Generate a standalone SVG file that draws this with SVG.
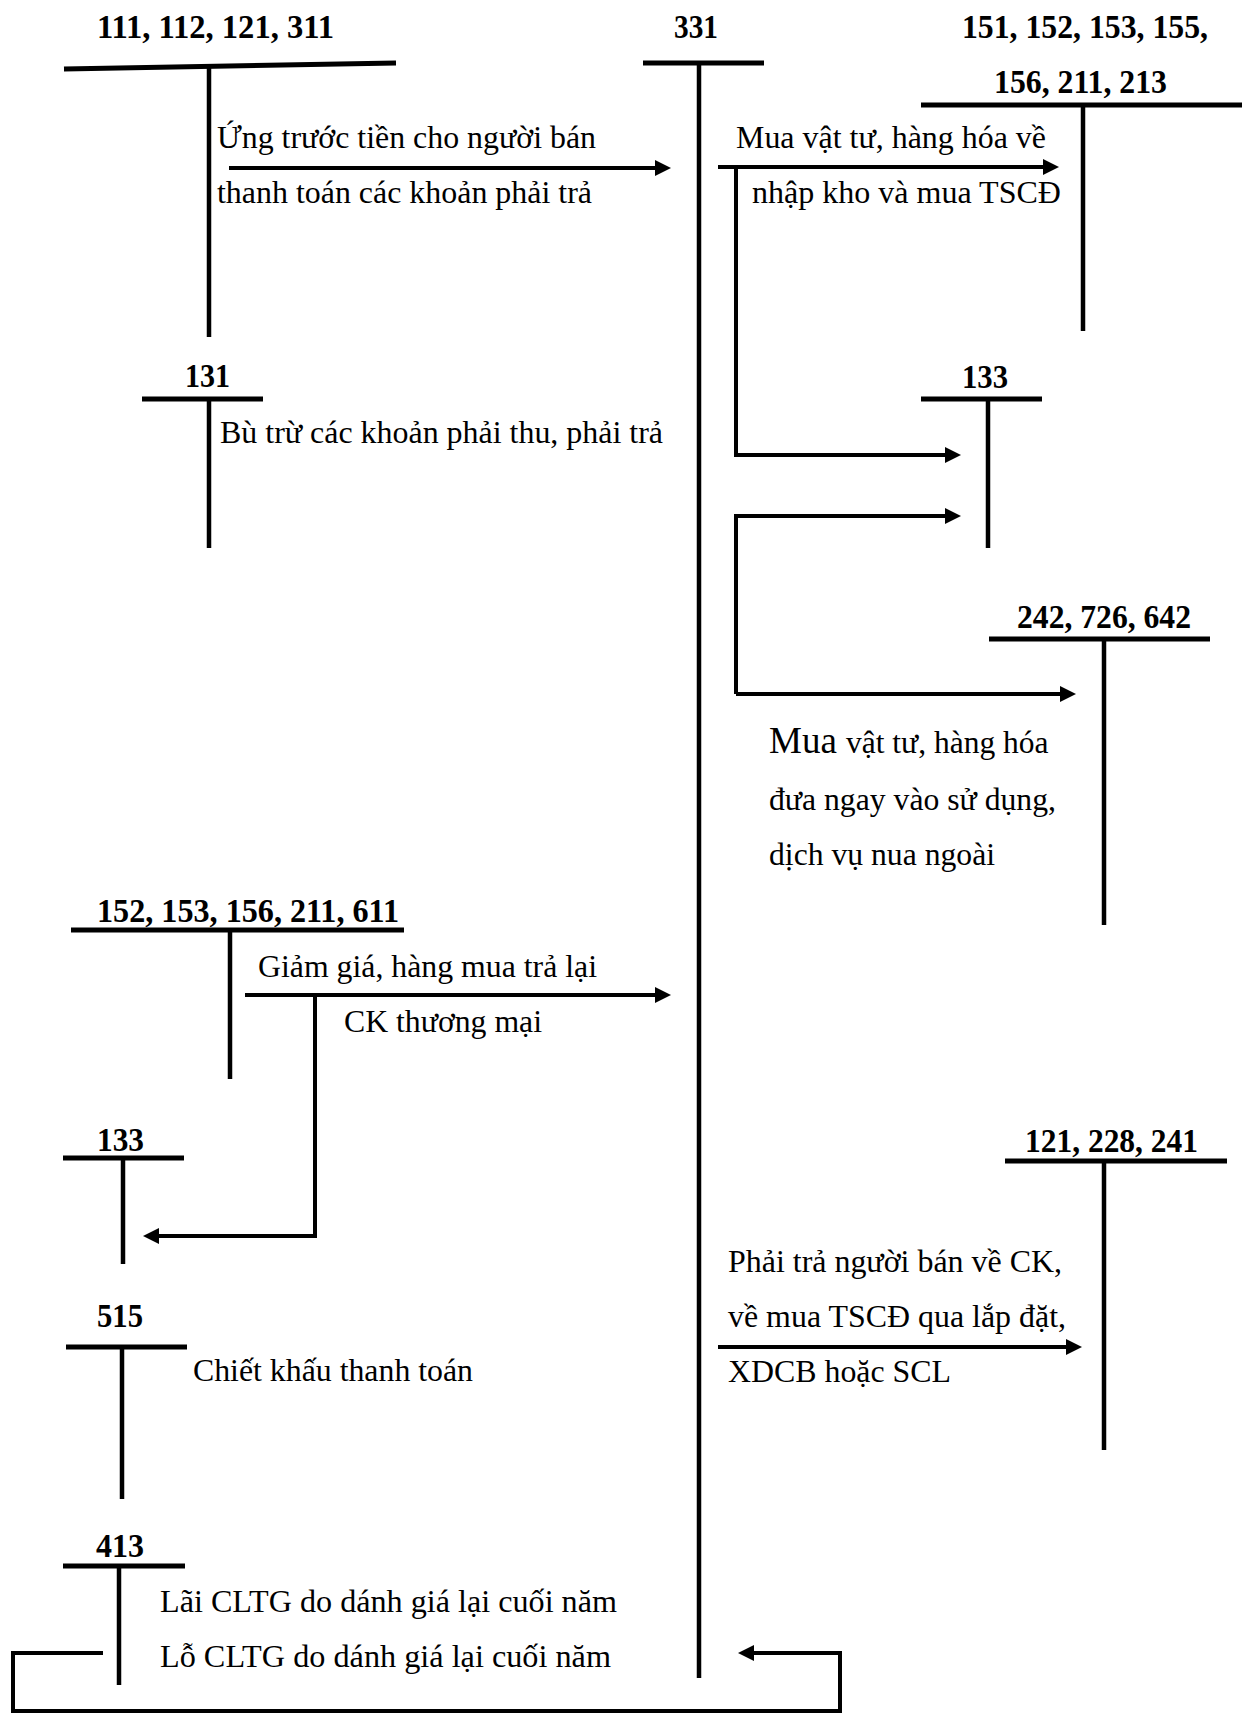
<svg xmlns="http://www.w3.org/2000/svg" width="1242" height="1715" viewBox="0 0 1242 1715">
<style>
  .t{font-family:"Liberation Serif","Times New Roman",serif;font-size:33px;font-weight:bold;fill:#000}
  .b{font-family:"Liberation Serif","Times New Roman",serif;font-size:31.5px;fill:#000}
  .h{stroke:#000;stroke-width:5;fill:none}
  .v{stroke:#000;stroke-width:4.5;fill:none}
  .a{stroke:#000;stroke-width:4;fill:none;marker-end:url(#ah)}
</style>
<defs>
  <marker id="ah" markerUnits="userSpaceOnUse" markerWidth="16" markerHeight="16" viewBox="0 0 16 16" refX="6" refY="8" orient="auto">
    <path d="M0,0 L16,8 L0,16 z" fill="#000"/>
  </marker>
</defs>
<rect width="1242" height="1715" fill="#fff"/>

<g id="acc-111">
  <text class="t" x="97" y="38" textLength="237" lengthAdjust="spacingAndGlyphs">111, 112, 121, 311</text>
  <line class="h" x1="64" y1="69" x2="396" y2="63"/>
  <line class="v" x1="209" y1="68" x2="209" y2="337"/>
</g>
<g id="acc-331">
  <text class="t" x="674" y="38" textLength="44" lengthAdjust="spacingAndGlyphs">331</text>
  <line class="h" x1="643" y1="63" x2="764" y2="63"/>
  <line class="v" x1="699" y1="63" x2="699" y2="1678"/>
</g>
<g id="acc-151">
  <text class="t" x="962" y="38" textLength="246" lengthAdjust="spacingAndGlyphs">151, 152, 153, 155,</text>
  <text class="t" x="994" y="93" textLength="173" lengthAdjust="spacingAndGlyphs">156, 211, 213</text>
  <line class="h" x1="921" y1="105" x2="1242" y2="105"/>
  <line class="v" x1="1083" y1="105" x2="1083" y2="331"/>
</g>
<g id="acc-131">
  <text class="t" x="185" y="387" textLength="45" lengthAdjust="spacingAndGlyphs">131</text>
  <line class="h" x1="142" y1="399" x2="263" y2="399"/>
  <line class="v" x1="209" y1="399" x2="209" y2="548"/>
</g>
<g id="acc-133-right">
  <text class="t" x="962" y="388" textLength="46" lengthAdjust="spacingAndGlyphs">133</text>
  <line class="h" x1="921" y1="399" x2="1042" y2="399"/>
  <line class="v" x1="988" y1="399" x2="988" y2="548"/>
</g>
<g id="acc-242">
  <text class="t" x="1017" y="628" textLength="174" lengthAdjust="spacingAndGlyphs">242, 726, 642</text>
  <line class="h" x1="989" y1="639" x2="1210" y2="639"/>
  <line class="v" x1="1104" y1="639" x2="1104" y2="925"/>
</g>
<g id="acc-152">
  <text class="t" x="97" y="922" textLength="302" lengthAdjust="spacingAndGlyphs">152, 153, 156, 211, 611</text>
  <line class="h" x1="71" y1="930" x2="404" y2="930"/>
  <line class="v" x1="230" y1="930" x2="230" y2="1079"/>
</g>
<g id="acc-133-left">
  <text class="t" x="97" y="1151" textLength="47" lengthAdjust="spacingAndGlyphs">133</text>
  <line class="h" x1="63" y1="1158" x2="184" y2="1158"/>
  <line class="v" x1="123" y1="1158" x2="123" y2="1264"/>
</g>
<g id="acc-121">
  <text class="t" x="1025" y="1152" textLength="173" lengthAdjust="spacingAndGlyphs">121, 228, 241</text>
  <line class="h" x1="1005" y1="1161" x2="1227" y2="1161"/>
  <line class="v" x1="1104" y1="1161" x2="1104" y2="1450"/>
</g>
<g id="acc-515">
  <text class="t" x="97" y="1327" textLength="46" lengthAdjust="spacingAndGlyphs">515</text>
  <line class="h" x1="66" y1="1347" x2="187" y2="1347"/>
  <line class="v" x1="122" y1="1347" x2="122" y2="1499"/>
</g>
<g id="acc-413">
  <text class="t" x="96" y="1557" textLength="48" lengthAdjust="spacingAndGlyphs">413</text>
  <line class="h" x1="63" y1="1566" x2="185" y2="1566"/>
  <line class="v" x1="119" y1="1566" x2="119" y2="1685"/>
</g>

<g id="connectors">
  <path class="a" d="M229,168 H661"/>
  <path class="a" d="M718,167 H1049"/>
  <path class="a" d="M736,167 V455 H951"/>
  <path class="a" d="M736,694 V516 H951"/>
  <path class="a" d="M736,694 H1066"/>
  <path class="a" d="M245,995 H661"/>
  <path class="a" d="M315,995 V1236 H153"/>
  <path class="a" d="M718,1347 H1072"/>
  <path class="a" d="M103,1653 H13 V1711 H840 V1653 H748"/>
</g>

<g id="labels">
  <text class="b" x="217" y="148" textLength="379" lengthAdjust="spacingAndGlyphs">Ứng trước tiền cho người bán</text>
  <text class="b" x="217" y="203" textLength="375" lengthAdjust="spacingAndGlyphs">thanh toán các khoản phải trả</text>
  <text class="b" x="736" y="148" textLength="310" lengthAdjust="spacingAndGlyphs">Mua vật tư, hàng hóa về</text>
  <text class="b" x="752" y="203" textLength="309" lengthAdjust="spacingAndGlyphs">nhập kho và mua TSCĐ</text>
  <text class="b" x="220" y="443" textLength="443" lengthAdjust="spacingAndGlyphs">Bù trừ các khoản phải thu, phải trả</text>
  <text class="b" x="769" y="753"><tspan font-size="37">Mua</tspan><tspan x="846">vật tư, hàng hóa</tspan></text>
  <text class="b" x="769" y="810" textLength="287" lengthAdjust="spacingAndGlyphs">đưa ngay vào sử dụng,</text>
  <text class="b" x="769" y="865" textLength="226" lengthAdjust="spacingAndGlyphs">dịch vụ nua ngoài</text>
  <text class="b" x="258" y="977" textLength="339" lengthAdjust="spacingAndGlyphs">Giảm giá, hàng mua trả lại</text>
  <text class="b" x="344" y="1032" textLength="198" lengthAdjust="spacingAndGlyphs">CK thương mại</text>
  <text class="b" x="728" y="1272" textLength="334" lengthAdjust="spacingAndGlyphs">Phải trả người bán về CK,</text>
  <text class="b" x="728" y="1327" textLength="338" lengthAdjust="spacingAndGlyphs">về mua TSCĐ qua lắp đặt,</text>
  <text class="b" x="728" y="1382" textLength="223" lengthAdjust="spacingAndGlyphs">XDCB hoặc SCL</text>
  <text class="b" x="193" y="1381" textLength="280" lengthAdjust="spacingAndGlyphs">Chiết khấu thanh toán</text>
  <text class="b" x="160" y="1612" textLength="457" lengthAdjust="spacingAndGlyphs">Lãi CLTG do dánh giá lại cuối năm</text>
  <text class="b" x="160" y="1667" textLength="451" lengthAdjust="spacingAndGlyphs">Lỗ CLTG do dánh giá lại cuối năm</text>
</g>
</svg>
